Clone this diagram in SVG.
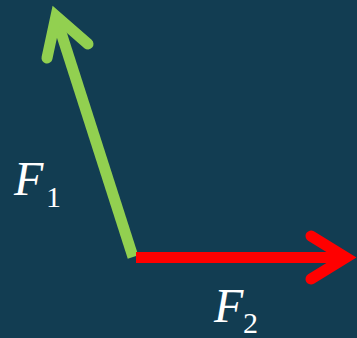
<svg xmlns="http://www.w3.org/2000/svg" width="357" height="338" viewBox="0 0 357 338">
<style>
.lbl{font-family:"Liberation Serif","Times New Roman",serif;fill:#ffffff}
.it{font-style:italic;font-size:48px}
.sub{font-size:30px}
.g{stroke:#92d050;stroke-width:11;fill:none}
.r{stroke:#ff0000;stroke-width:11;fill:none}
.head{stroke-linecap:round;stroke-linejoin:miter;stroke-miterlimit:10}
</style>
<rect width="357" height="338" fill="#123d52"/>
<g id="connectors">
<g id="F1-arrow">
<line class="g" x1="133" y1="257" x2="57" y2="20"/>
<polyline class="g head" points="47,58 56,16 88,44"/>
</g>
<g id="F2-arrow">
<line class="r" x1="136" y1="257.5" x2="344" y2="257.5"/>
<polyline class="r head" points="311,236 346,257.5 311,279"/>
</g>
</g>
<g id="label-F1">
<text class="lbl it" x="14" y="195">F</text>
<text class="lbl sub" x="46" y="207">1</text>
</g>
<g id="label-F2">
<text class="lbl it" x="214" y="322">F</text>
<text class="lbl sub" x="243" y="333">2</text>
</g>
</svg>
